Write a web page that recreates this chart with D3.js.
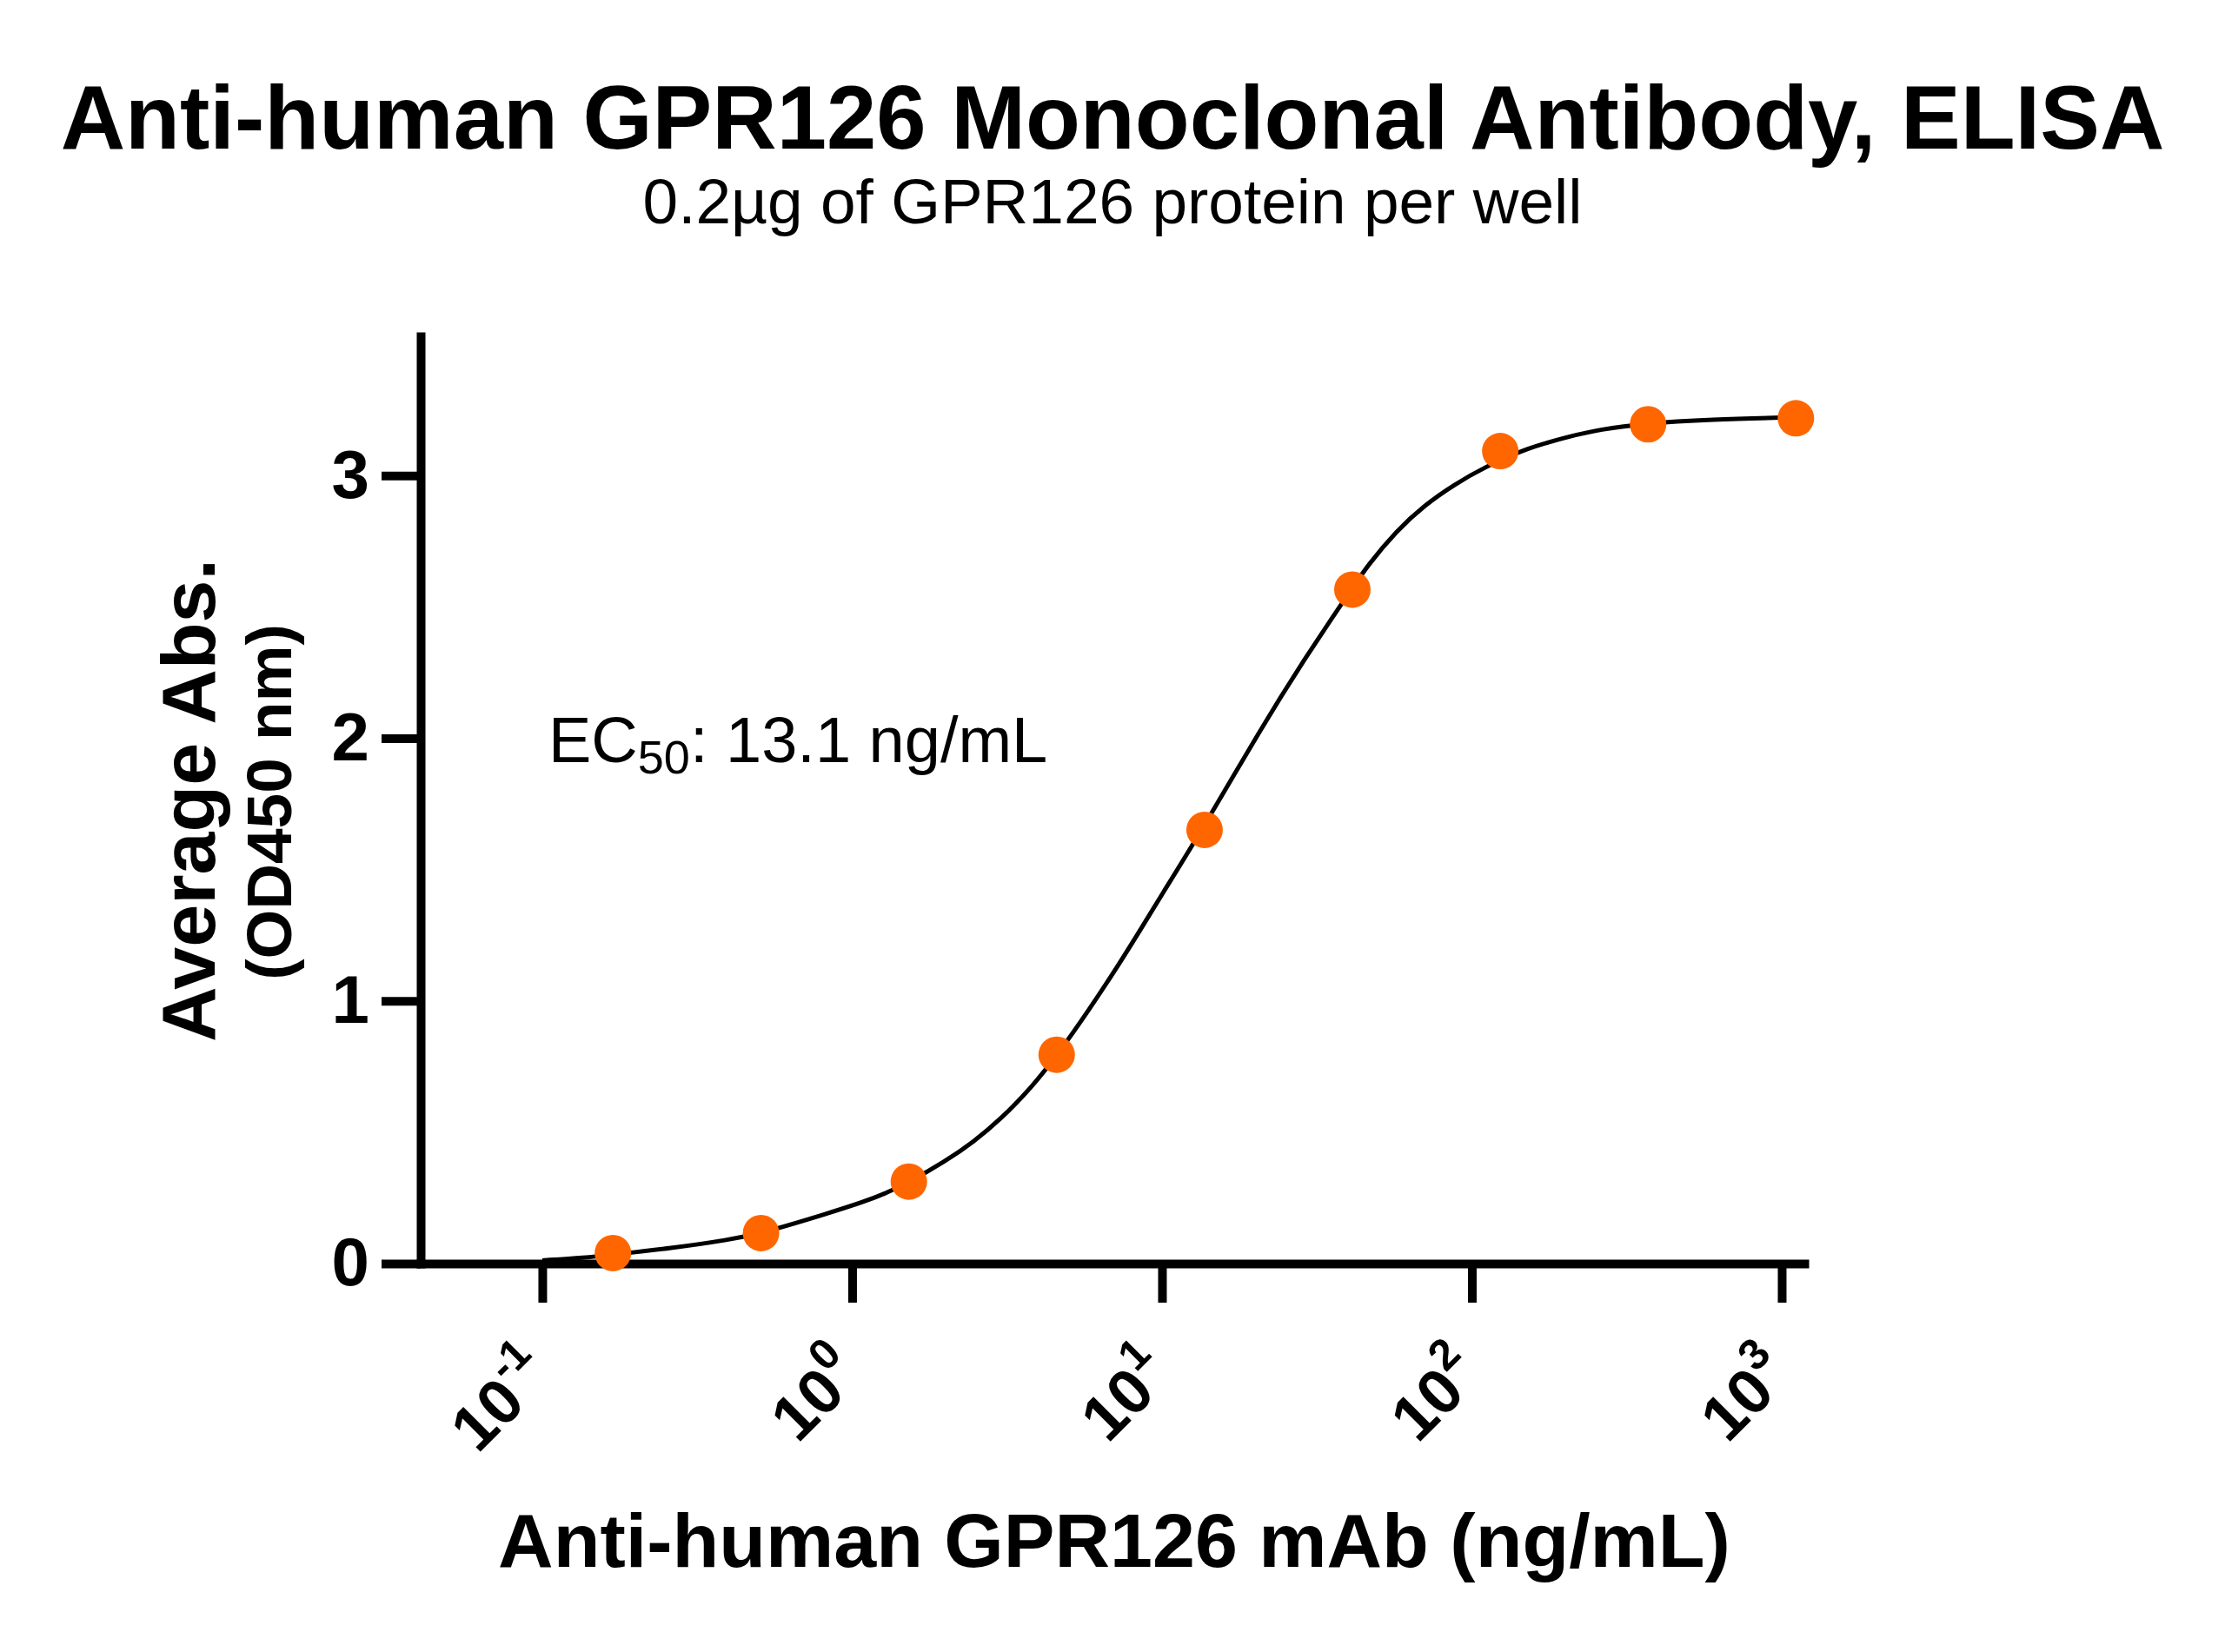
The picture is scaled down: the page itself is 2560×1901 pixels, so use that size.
<!DOCTYPE html>
<html>
<head>
<meta charset="utf-8">
<script src="https://cdn.jsdelivr.net/npm/d3@7"></script>
<style>
  body { margin: 0; background: #fff; }
  text { font-family: "Liberation Sans", Arial, Helvetica, sans-serif; fill: #000; }
</style>
</head>
<body>
<div id="chart"></div>
<script>
// measured points: 3-fold dilution of the antibody (ng/mL) and mean OD450
const concentration = [0.169, 0.508, 1.524, 4.572, 13.72, 41.15, 123.5, 370.4, 1111];
const absorbance = [0.040, 0.116, 0.312, 0.795, 1.651, 2.566, 3.093, 3.195, 3.218];

// fitted curve
const curveConc = [0.1, 0.137, 0.17, 0.26, 0.4, 0.51, 0.83, 1.2, 1.53, 1.99, 2.46, 3.05, 3.79, 4.58, 5.81, 7.24, 8.56, 9.8,
    13.7, 20.8, 29.3, 40.9, 45.9, 57.1, 70.8, 87.6, 109, 151, 208, 258, 360, 585, 1111];
const curveAbs = [0.012, 0.022, 0.034, 0.058, 0.09, 0.115, 0.19, 0.25, 0.31, 0.388, 0.462, 0.555, 0.67, 0.792, 0.965, 1.137, 1.275, 1.389,
    1.665, 2.035, 2.315, 2.567, 2.655, 2.79, 2.89, 2.965, 3.03, 3.105, 3.15, 3.175, 3.198, 3.213, 3.222];

// axis ticks
const xTickValues = [0.1, 1, 10, 100, 1000];
const xTickExponents = ["-1", "0", "1", "2", "3"];
const yTickValues = [0, 1, 2, 3];

const titleText = "Anti-human GPR126 Monoclonal Antibody, ELISA";
const subtitleText = "0.2\u00b5g of GPR126 protein per well";
const xLabel = "Anti-human GPR126 mAb (ng/mL)";
const yLabel = "Average Abs.";
const yLabel2 = "(OD450 nm)";

const w = 2560, h = 1901;

const svg = d3.select("#chart")
    .append("svg")
    .attr("width", w)
    .attr("height", h)
    .attr("viewBox", `0 0 ${w} ${h}`);

svg.append("rect").attr("width", w).attr("height", h).attr("fill", "#fff");

// scales (axis runs slightly past the data on both ends)
const x = d3.scaleLog()
    .domain([0.0405, 1183])
    .range([484, 2076]);

const y = d3.scaleLinear()
    .domain([0, 3.53])
    .range([1454, 387]);

// titles
svg.append("text")
    .attr("x", 1280).attr("y", 171)
    .attr("text-anchor", "middle")
    .style("font-size", "103px")
    .style("font-weight", "bold")
    .text(titleText);

svg.append("text")
    .attr("x", 1280).attr("y", 257)
    .attr("text-anchor", "middle")
    .style("font-size", "73px")
    .text(subtitleText);

// y axis
const yAxis = d3.axisLeft(y)
    .tickValues(yTickValues)
    .tickFormat(d3.format("d"))
    .tickSize(45)
    .tickSizeOuter(0)
    .tickPadding(14);

const gy = svg.append("g")
    .attr("transform", `translate(${x.range()[0]},0)`)
    .call(yAxis);

gy.select(".domain").attr("stroke-width", 10).attr("stroke-linecap", "square");
gy.selectAll(".tick line").attr("stroke-width", 10);
gy.selectAll(".tick text")
    .style("font-size", "78px")
    .style("font-weight", "bold")
    .style("font-family", "'Liberation Sans', Arial, sans-serif");

// x axis, labels written as powers of ten
const xAxis = d3.axisBottom(x)
    .tickValues(xTickValues)
    .tickFormat(() => "")
    .tickSize(45)
    .tickSizeOuter(0);

const gx = svg.append("g")
    .attr("transform", `translate(0,${y.range()[0]})`)
    .call(xAxis);

gx.select(".domain").attr("stroke-width", 10).attr("stroke-linecap", "square");
gx.selectAll(".tick line").attr("stroke-width", 10);
gx.selectAll(".tick text").remove();

gx.selectAll(".tick").each(function (d, i) {
    const lab = d3.select(this).append("text")
        .attr("text-anchor", "end")
        .attr("transform", "translate(14,131) rotate(-45)")
        .style("font-size", "73px")
        .style("font-weight", "bold");
    lab.append("tspan").text("10");
    lab.append("tspan")
        .attr("dy", -35)
        .style("font-size", "50px")
        .text(xTickExponents[i]);
});

// axis titles
svg.append("text")
    .attr("x", 1282).attr("y", 1803)
    .attr("text-anchor", "middle")
    .style("font-size", "88px")
    .style("font-weight", "bold")
    .text(xLabel);

svg.append("text")
    .attr("transform", "translate(247,921) rotate(-90)")
    .attr("text-anchor", "middle")
    .style("font-size", "88px")
    .style("font-weight", "bold")
    .text(yLabel);

svg.append("text")
    .attr("transform", "translate(335,923) rotate(-90)")
    .attr("text-anchor", "middle")
    .style("font-size", "73px")
    .style("font-weight", "bold")
    .text(yLabel2);

// fitted curve
const curveData = curveConc.map((c, i) => ({ c: c, v: curveAbs[i] }));

svg.append("path")
    .datum(curveData)
    .attr("fill", "none")
    .attr("stroke", "#000")
    .attr("stroke-width", 5)
    .attr("d", d3.line()
        .x(d => x(d.c))
        .y(d => y(d.v))
        .curve(d3.curveBasis));

// data points
const pts = concentration.map((c, i) => ({ c: c, v: absorbance[i] }));

svg.selectAll("circle.pt")
    .data(pts)
    .join("circle")
    .attr("class", "pt")
    .attr("cx", d => x(d.c))
    .attr("cy", d => y(d.v))
    .attr("r", 21)
    .attr("fill", "#ff6600");

// EC50 annotation
const ec = svg.append("text")
    .attr("x", 631).attr("y", 877)
    .style("font-size", "74px");
ec.append("tspan").text("EC");
ec.append("tspan").attr("dy", 13).style("font-size", "54px").text("50");
ec.append("tspan").attr("dy", -13).text(": 13.1 ng/mL");
</script>
</body>
</html>
